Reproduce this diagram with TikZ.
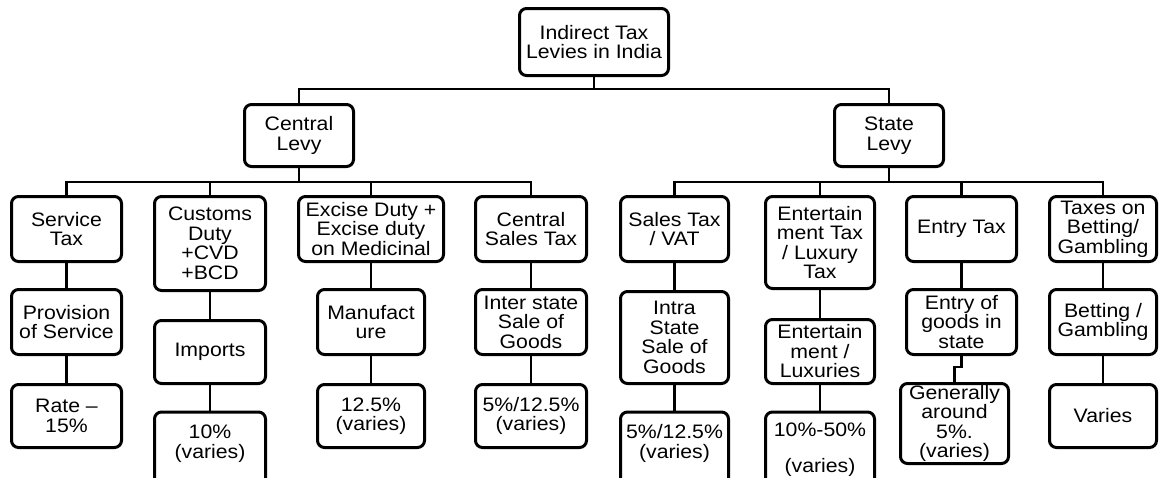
\documentclass[tikz,border=0pt]{standalone}
\usepackage{fontspec}
\setmainfont{Liberation Sans}[FakeStretch=1.09]
\begin{document}
\begin{tikzpicture}[x=1pt,y=-1pt,
  bx/.style={draw=black, line width=3pt, rounded corners=7pt, fill=white,
    align=center, inner sep=1pt, font=\fontsize{19.5}{19.5}\selectfont},
  txt/.style={align=center, inner sep=0pt, font=\fontsize{19.5}{19.5}\selectfont},
  ln/.style={draw=black, line width=2.6pt}]
\clip (0,0) rectangle (1161,477);
\fill[white] (0,0) rectangle (1161,477);
% level 0 and 1
\node[bx, minimum width=149, minimum height=67] (root) at (594,42) {Indirect Tax\\Levies in India};
\node[bx, minimum width=109, minimum height=62] (cl) at (299,135.5) {Central\\Levy};
\node[bx, minimum width=109, minimum height=62] (sl) at (889,135.5) {State\\Levy};
% central branch
\node[bx, minimum width=110, minimum height=65] (st) at (66.5,229) {Service\\Tax};
\node[bx, minimum width=110, minimum height=65] (ps) at (66.5,322) {Provision\\of Service};
\node[bx, minimum width=110, minimum height=63] (rt) at (66.5,416) {Rate --\\15\%};
\node[bx, minimum width=111, minimum height=94] (cd) at (210,243.5) {Customs\\Duty\\+CVD\\+BCD};
\node[bx, minimum width=111, minimum height=63] (im) at (210,352) {Imports};
\node[bx, minimum width=111, minimum height=90] (cv) at (210,457) {};
\node[txt] (cvt) at (210,443.5) {10\%\\(varies)};
\node[bx, minimum width=145, minimum height=65] (ed) at (371,229) {Excise Duty +\\Excise duty\\on Medicinal};
\node[bx, minimum width=107, minimum height=65] (mf) at (371,322) {Manufact\\ure};
\node[bx, minimum width=107, minimum height=63] (ev) at (371,416) {12.5\%\\(varies)};
\node[bx, minimum width=111, minimum height=65] (cs) at (531,229) {Central\\Sales Tax};
\node[bx, minimum width=111, minimum height=65] (is) at (531,322) {Inter state\\Sale of\\Goods};
\node[bx, minimum width=111, minimum height=63] (sv) at (531,416) {5\%/12.5\%\\(varies)};
% state branch
\node[bx, minimum width=108, minimum height=65] (vt) at (674.5,229) {Sales Tax\\/ VAT};
\node[bx, minimum width=108, minimum height=92] (ia) at (674.5,337.5) {Intra\\State\\Sale of\\Goods};
\node[bx, minimum width=108, minimum height=90] (vv) at (674.5,457) {};
\node[txt] (vvt) at (674.5,443.5) {5\%/12.5\%\\(varies)};
\node[bx, minimum width=109, minimum height=92] (et) at (820,242.5) {Entertain\\ment Tax\\/ Luxury\\Tax};
\node[bx, minimum width=109, minimum height=64] (el) at (820,351.5) {Entertain\\ment /\\Luxuries};
\node[bx, minimum width=109, minimum height=90] (lv) at (820,457) {};
\node[txt] (lvt) at (820,450) {10\%-50\%\\[16.5pt](varies)};
\node[bx, minimum width=110, minimum height=65] (en) at (961.5,229) {Entry Tax};
\node[bx, minimum width=110, minimum height=65] (eg) at (961.5,322) {Entry of\\goods in\\state};
\node[bx, minimum width=108, minimum height=80] (ga) at (954.5,423.5) {Generally\\around\\5\%.\\(varies)};
\node[bx, minimum width=107, minimum height=65] (tb) at (1103,229) {Taxes on\\Betting/\\Gambling};
\node[bx, minimum width=107, minimum height=65] (bg) at (1103,322) {Betting /\\Gambling};
\node[bx, minimum width=107, minimum height=63] (va) at (1103,416) {Varies};
% connectors
\draw[ln] (root.south) -- ++(0,12) -| (cl.north);
\draw[ln] (root.south) -- ++(0,12) -| (sl.north);
\foreach \c in {st,cd,ed,cs} \draw[ln] (cl.south) -- ++(0,14) -| (\c.north);
\foreach \c in {vt,et,en,tb} \draw[ln] (sl.south) -- ++(0,14) -| (\c.north);
\draw[ln] (st) -- (ps); \draw[ln] (ps) -- (rt);
\draw[ln] (cd) -- (im); \draw[ln] (im) -- (cv);
\draw[ln] (ed) -- (mf); \draw[ln] (mf) -- (ev);
\draw[ln] (cs) -- (is); \draw[ln] (is) -- (sv);
\draw[ln] (vt) -- (ia); \draw[ln] (ia) -- (vv);
\draw[ln] (et) -- (el); \draw[ln] (el) -- (lv);
\draw[ln] (en) -- (eg); \draw[ln] (eg.south) -- ++(0,11) -| (ga.north);
\draw[ln] (tb) -- (bg); \draw[ln] (bg) -- (va);
\end{tikzpicture}
\end{document}
